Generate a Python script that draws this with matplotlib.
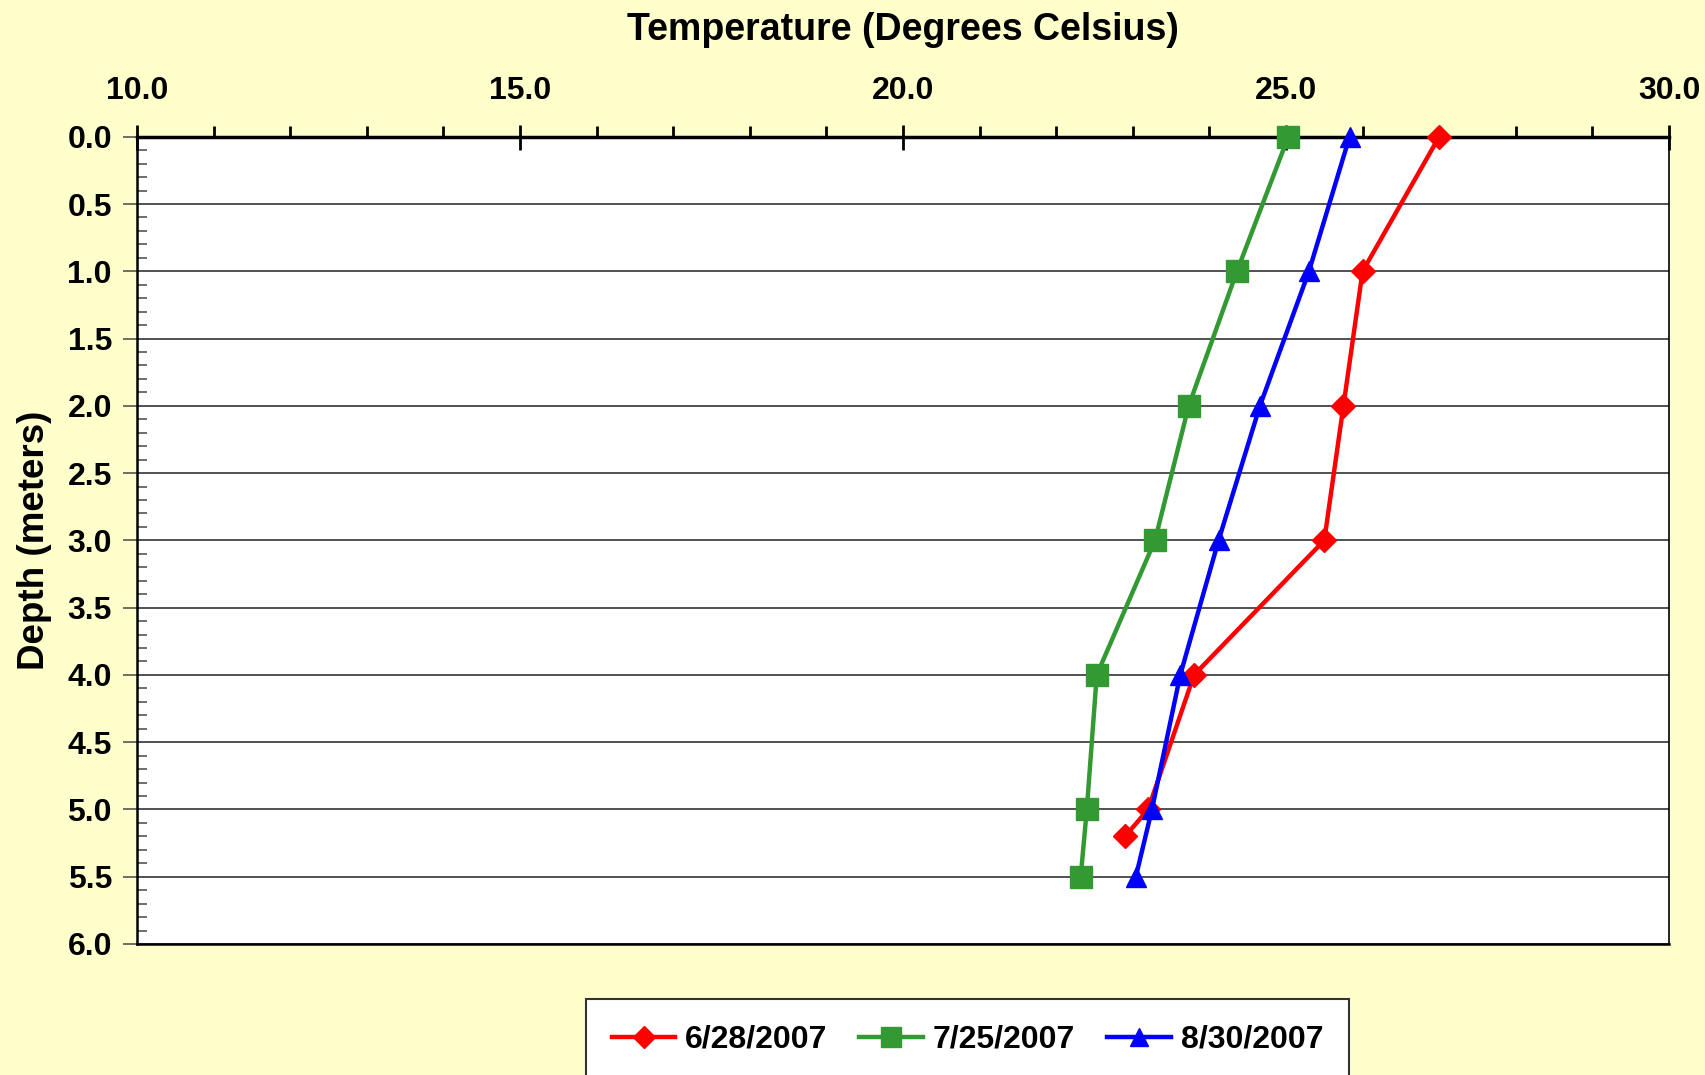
import matplotlib
matplotlib.use("Agg")
import matplotlib.pyplot as plt
from matplotlib.ticker import MultipleLocator, FormatStrFormatter

plt.rcParams['font.family'] = ['Liberation Sans', 'DejaVu Sans']
plt.rcParams['font.weight'] = 'bold'

# Data
dates = ["6/28/2007", "7/25/2007", "8/30/2007"]
depth_jun = [0.0, 1.0, 2.0, 3.0, 4.0, 5.0, 5.2]
temp_jun = [27.0, 26.0, 25.75, 25.5, 23.8, 23.2, 22.9]
depth_jul = [0.0, 1.0, 2.0, 3.0, 4.0, 5.0, 5.5]
temp_jul = [25.03, 24.36, 23.73, 23.29, 22.53, 22.4, 22.32]
depth_aug = [0.0, 1.0, 2.0, 3.0, 4.0, 5.0, 5.5]
temp_aug = [25.83, 25.3, 24.66, 24.12, 23.62, 23.25, 23.04]

x_title = "Temperature (Degrees Celsius)"
y_title = "Depth (meters)"

fig = plt.figure(figsize=(17.06, 10.75), dpi=100)
fig.patch.set_facecolor('#FFFFCC')
ax = fig.add_axes([0.0803, 0.1219, 0.8980, 0.7509])
ax.set_facecolor('white')

series = [
    (temp_jun, depth_jun, '#FF0000', 'D', 12),
    (temp_jul, depth_jul, '#339933', 's', 16.5),
    (temp_aug, depth_aug, '#0000FF', '^', 15),
]
for (t, d, c, m, ms), lab in zip(series, dates):
    ax.plot(t, d, color=c, marker=m, markersize=ms, linewidth=3.2,
            label=lab, clip_on=False, zorder=5)

ax.set_xlim(10, 30)
ax.set_ylim(6, 0)

ax.xaxis.set_major_locator(MultipleLocator(5))
ax.xaxis.set_minor_locator(MultipleLocator(1))
ax.xaxis.set_major_formatter(FormatStrFormatter('%.1f'))
ax.yaxis.set_major_locator(MultipleLocator(0.5))
ax.yaxis.set_minor_locator(MultipleLocator(0.1))
ax.yaxis.set_major_formatter(FormatStrFormatter('%.1f'))

ax.xaxis.tick_top()
ax.xaxis.set_label_position('top')
ax.tick_params(axis='x', which='major', direction='inout', length=18, width=2,
               labelsize=23, pad=13, top=True, bottom=False)
ax.tick_params(axis='x', which='minor', direction='out', length=8, width=2,
               top=True, bottom=False)
ax.tick_params(axis='y', which='major', direction='out', length=10, width=1.2,
               labelsize=23, pad=8, color='#555555')
ax.tick_params(axis='y', which='minor', direction='in', length=7, width=1.2,
               color='#555555')
for lbl in ax.get_xticklabels() + ax.get_yticklabels():
    lbl.set_fontweight('bold')

ax.yaxis.grid(True, which='major', color='#333333', linewidth=1.2)
ax.set_axisbelow(True)

ax.spines['top'].set_linewidth(2.5)
ax.spines['left'].set_linewidth(1.8)
ax.spines['right'].set_linewidth(1.2)
ax.spines['bottom'].set_linewidth(1.8)

ax.set_xlabel(x_title, fontsize=27, fontweight='bold', labelpad=26)
ax.set_ylabel(y_title, fontsize=26.5, fontweight='bold', labelpad=11)

leg = fig.legend(loc='center', bbox_to_anchor=(0.567, 0.0326), ncol=3,
                 prop={'size': 23, 'weight': 'bold'}, frameon=True,
                 fancybox=False, borderpad=0.8, handlelength=2.0,
                 handletextpad=0.3, columnspacing=1.0, markerscale=0.9)
leg.get_frame().set_edgecolor('#333333')
leg.get_frame().set_linewidth(1.5)
leg.get_frame().set_facecolor('white')
leg.get_frame().set_alpha(1)

fig.savefig('out.png', dpi=100, facecolor=fig.get_facecolor())
